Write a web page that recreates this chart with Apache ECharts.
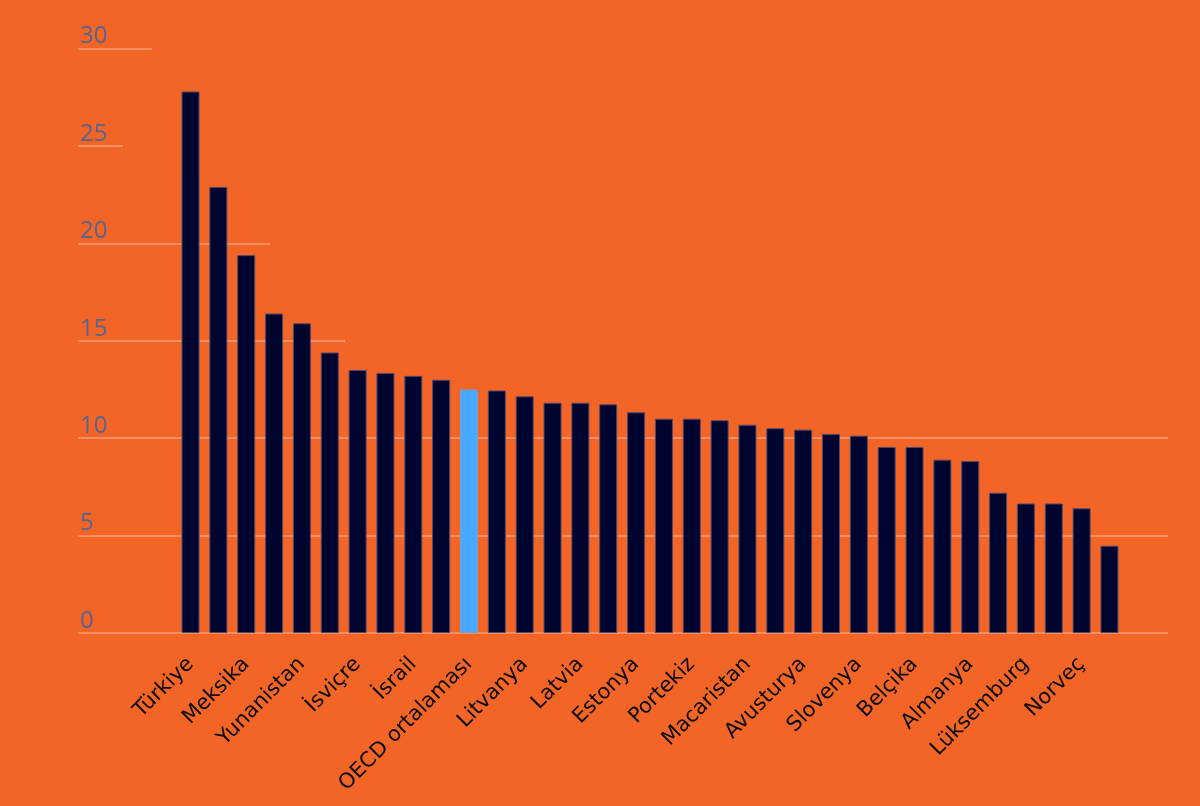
<!DOCTYPE html>
<html>
<head>
<meta charset="utf-8">
<script src="https://cdn.jsdelivr.net/npm/echarts@6/dist/echarts.min.js"></script>
<style>
  html, body { margin: 0; padding: 0; background: #f36527; }
  #container1 { width: 1200px; height: 806px; }
</style>
</head>
<body>
<div id="container1"></div>
<script>
// ülkeler (sıralı) ve değerler
var countries = [
    'Türkiye', 'Kolombiya', 'Meksika', 'Şili', 'Yunanistan', 'Kosta Rika',
    'İsviçre', 'Polonya', 'İsrail', 'İspanya', 'OECD ortalaması', 'İtalya',
    'Litvanya', 'Slovakya', 'Latvia', 'Çekya', 'Estonya', 'Fransa',
    'Portekiz', 'Japonya', 'Macaristan', 'Kanada', 'Avusturya', 'İrlanda',
    'Slovenya', 'Hollanda', 'Belçika', 'Avustralya', 'Almanya', 'Danimarka',
    'Lüksemburg', 'İsveç', 'Norveç', 'Finlandiya'
];
var values = [
    27.8, 22.9, 19.4, 16.4, 15.9, 14.4,
    13.5, 13.35, 13.2, 13.0, 12.5, 12.45,
    12.15, 11.82, 11.82, 11.74, 11.33, 11.0,
    11.0, 10.92, 10.69, 10.51, 10.44, 10.22,
    10.13, 9.55, 9.55, 8.9, 8.83, 7.2,
    6.65, 6.65, 6.4, 4.48
];
var highlight = 'OECD ortalaması';
var yTicks = [0, 5, 10, 15, 20, 25, 30];

var navy  = '#00052f';
var blue  = '#47a9ff';
var gridC = '#f69c74';
var none  = 'rgba(0,0,0,0)';

var barData = [];
for (var i in countries) {
    var hl = countries[i] === highlight;
    barData[i] = {
        value: values[i],
        itemStyle: {
            color: hl ? blue : navy,
            borderColor: hl ? '#7a9fd0' : '#4d4a6e'
        }
    };
}

// split line colour list: show only the ticks listed
function lineColors(show) {
    var c = [];
    for (var k in yTicks) {
        c[k] = show.indexOf(yTicks[k]) >= 0 ? gridC : none;
    }
    return c;
}

function lineAxis(grid, show, labels) {
    return {
        type: 'value', gridIndex: grid, min: 0, max: 30, interval: 5,
        axisLine: { show: false }, axisTick: { show: false },
        axisLabel: {
            show: labels, inside: true, margin: 2, verticalAlign: 'bottom',
            color: '#55648f', fontSize: 24, fontFamily: 'Open Sans'
        },
        splitLine: { show: true, lineStyle: { color: lineColors(show), width: 1.5 } }
    };
}

var dom    = document.getElementById('container1');
var chart1 = echarts.init(dom);

option = {
    backgroundColor: '#f36527',
    animation: false,
    grid: [
        { left: 176.6, right: 76.6, top: 48.6, bottom: 173 },
        { left: 78, right: 32, top: 48.6, bottom: 173 },
        { left: 78, width: 267, top: 48.6, bottom: 173 },
        { left: 78, width: 192, top: 48.6, bottom: 173 },
        { left: 78, width: 45, top: 48.6, bottom: 173 },
        { left: 78, width: 74, top: 48.6, bottom: 173 }
    ],
    xAxis: [
        {
            type: 'category', gridIndex: 0, data: countries,
            axisLine: { show: false }, axisTick: { show: false },
            axisLabel: {
                interval: 1, rotate: 45, margin: 28,
                color: '#0a0a0a', fontSize: 21, fontFamily: 'DejaVu Sans'
            }
        },
        { type: 'value', gridIndex: 1, show: false },
        { type: 'value', gridIndex: 2, show: false },
        { type: 'value', gridIndex: 3, show: false },
        { type: 'value', gridIndex: 4, show: false },
        { type: 'value', gridIndex: 5, show: false }
    ],
    yAxis: [
        {
            type: 'value', gridIndex: 0, min: 0, max: 30, interval: 5,
            show: false, splitLine: { show: false }
        },
        lineAxis(1, [0, 5, 10], true),
        lineAxis(2, [15], false),
        lineAxis(3, [20], false),
        lineAxis(4, [25], false),
        lineAxis(5, [30], false)
    ],
    series: [
        {
            type: 'bar',
            xAxisIndex: 0,
            yAxisIndex: 0,
            barWidth: 18,
            data: barData,
            itemStyle: { borderWidth: 1 }
        }
    ]
};

chart1.setOption(option, true);
</script>
</body>
</html>
